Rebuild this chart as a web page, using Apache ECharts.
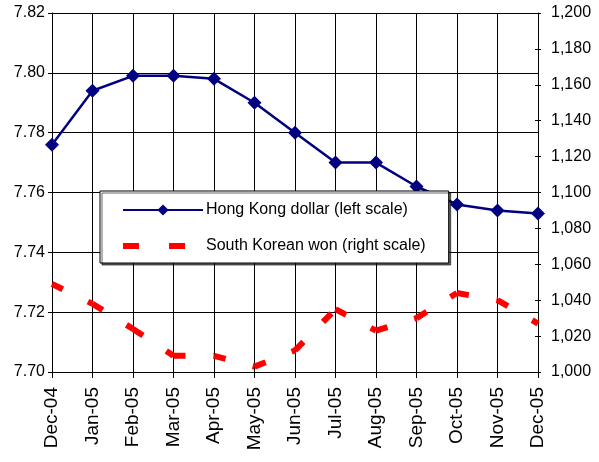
<!DOCTYPE html>
<html>
<head>
<meta charset="utf-8">
<script src="https://cdn.jsdelivr.net/npm/echarts@6/dist/echarts.min.js"></script>
<style>
html,body{margin:0;padding:0;background:#fff;}
#c{width:599px;height:462px;}
</style>
</head>
<body>
<div id="c"></div>
<script>
var categories = ['Dec-04','Jan-05','Feb-05','Mar-05','Apr-05','May-05','Jun-05','Jul-05','Aug-05','Sep-05','Oct-05','Nov-05','Dec-05'];
var hkdValues = [7.776, 7.794, 7.799, 7.799, 7.798, 7.790, 7.780, 7.770, 7.770, 7.762, 7.756, 7.754, 7.753];
var krwValues = [1049, 1038, 1024, 1009, 1009, 1003, 1012, 1035, 1023, 1030, 1044, 1040, 1027];
var hkdName = 'Hong Kong dollar (left scale)';
var krwName = 'South Korean won (right scale)';

var chart = echarts.init(document.getElementById('c'));
var font = 'Liberation Sans, Arial, sans-serif';

// South Korean won drawn segment by segment so that the dash pattern restarts at each month
var krwSeries = [];
for (var i = 0; i < krwValues.length - 1; i++) {
  krwSeries.push({
    name: krwName,
    type: 'line',
    yAxisIndex: 1,
    data: krwValues.map(function (v, j) { return (j === i || j === i + 1) ? v : null; }),
    connectNulls: false,
    symbol: 'none',
    showSymbol: false,
    lineStyle: {color: '#ff0000', width: 6, type: [12, 28], cap: 'butt'},
    itemStyle: {color: '#ff0000'},
    z: 2
  });
}

chart.setOption({
  animation: false,
  backgroundColor: '#fff',
  grid: {left: 52, right: 61, top: 13, bottom: 90},
  legend: {
    orient: 'vertical',
    left: 100, top: 191,
    padding: [11, 23, 9, 20],
    itemWidth: 80, itemHeight: 14, itemGap: 20,
    backgroundColor: '#fff',
    borderColor: '#000', borderWidth: 1,
    shadowColor: 'rgba(0,0,0,0.6)', shadowOffsetX: 2, shadowOffsetY: 2, shadowBlur: 0,
    textStyle: {fontFamily: font, fontSize: 16, color: '#000', padding: [0,0,0,-2]},
    data: [
      {name: hkdName},
      {name: krwName, itemStyle: {opacity: 0}, lineStyle: {type: [16, 30], width: 6, color: '#ff0000'}}
    ]
  },
  xAxis: {
    type: 'category',
    data: categories,
    boundaryGap: false,
    axisLine: {lineStyle: {color: '#000', width: 1}},
    axisTick: {show: true, length: 6, alignWithLabel: true, lineStyle: {color: '#000'}},
    axisLabel: {rotate: 90, fontFamily: font, fontSize: 19, color: '#000', margin: 15, interval: 0},
    splitLine: {show: true, lineStyle: {color: '#000', width: 1}}
  },
  yAxis: [
    {
      type: 'value', min: 7.70, max: 7.82, interval: 0.02, position: 'left',
      axisLine: {show: true, lineStyle: {color: '#000'}},
      axisTick: {show: true, length: 4, lineStyle: {color: '#000'}},
      axisLabel: {fontFamily: font, fontSize: 16, color: '#000', margin: 7,
        formatter: function (v) { return v.toFixed(2); }},
      splitLine: {show: true, lineStyle: {color: '#000', width: 1}}
    },
    {
      type: 'value', min: 1000, max: 1200, interval: 20, position: 'right',
      axisLine: {show: true, lineStyle: {color: '#000'}},
      axisTick: {show: true, length: 3, lineStyle: {color: '#000'}},
      axisLabel: {fontFamily: font, fontSize: 16, color: '#000', margin: 13,
        formatter: function (v) { return v.toLocaleString('en-US'); }},
      splitLine: {show: false}
    },
    {
      type: 'value', min: 1000, max: 1200, interval: 20, position: 'right',
      axisLine: {show: false},
      axisTick: {show: true, inside: true, length: 3, lineStyle: {color: '#000'}},
      axisLabel: {show: false},
      splitLine: {show: false}
    }
  ],
  series: [
    {
      name: hkdName,
      type: 'line',
      yAxisIndex: 0,
      data: hkdValues,
      symbol: 'diamond',
      symbolSize: 14,
      lineStyle: {color: '#000080', width: 2.5},
      itemStyle: {color: '#000080'},
      z: 3
    }
  ].concat(krwSeries)
});
</script>
</body>
</html>
